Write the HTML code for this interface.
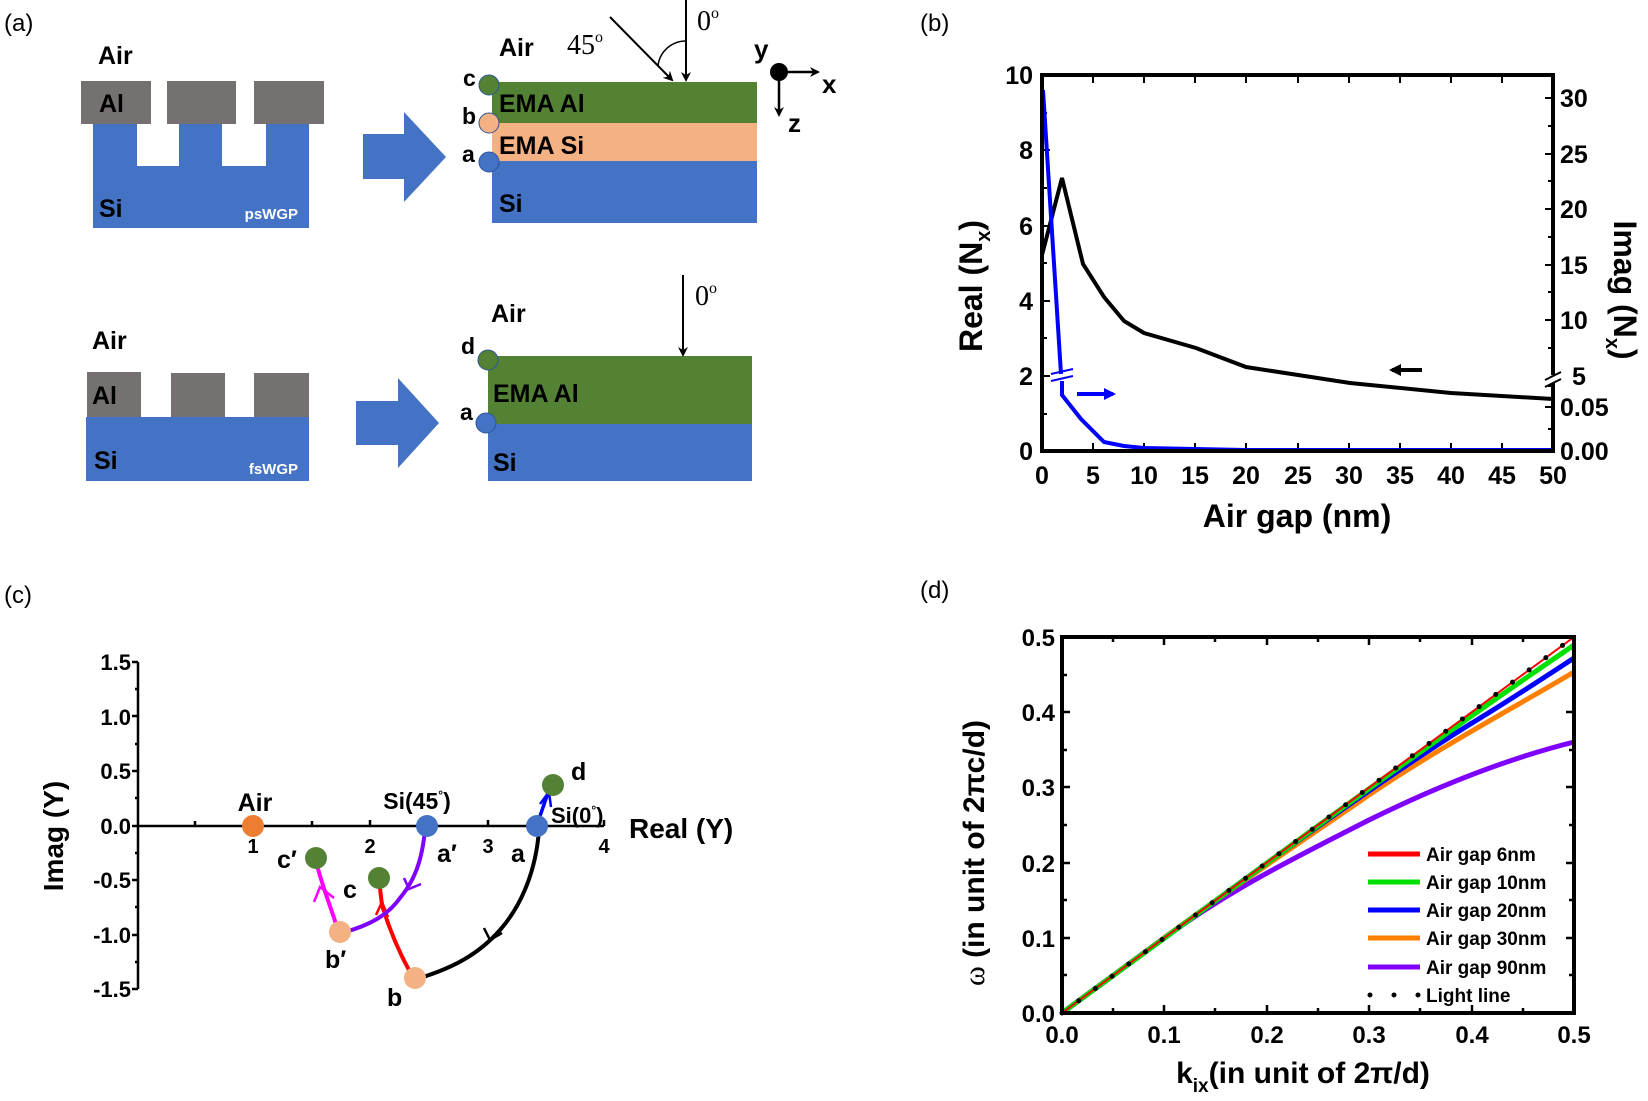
<!DOCTYPE html>
<html><head><meta charset="utf-8"><style>
html,body{margin:0;padding:0;background:#fff}
svg{display:block}
text{font-family:"Liberation Sans",sans-serif;font-weight:bold}
.s{font-family:"Liberation Serif",serif;font-weight:normal}
</style></head><body>
<svg width="1648" height="1101" viewBox="0 0 1648 1101" xmlns="http://www.w3.org/2000/svg">
<defs>
<marker id="ah" markerWidth="10" markerHeight="10" refX="8" refY="5" orient="auto" markerUnits="userSpaceOnUse"><path d="M0,0 L10,5 L0,10 L3,5 Z" fill="#000"/></marker>
<marker id="ahb" markerWidth="12" markerHeight="12" refX="9" refY="6" orient="auto" markerUnits="userSpaceOnUse"><path d="M0,0 L12,6 L0,12 Z" fill="#00f"/></marker>
<marker id="ahk" markerWidth="12" markerHeight="12" refX="9" refY="6" orient="auto" markerUnits="userSpaceOnUse"><path d="M0,0 L12,6 L0,12 Z" fill="#000"/></marker>
</defs>
<rect width="1648" height="1101" fill="#fff"/>

<!-- ===== Panel (a) ===== -->
<text x="4" y="31" font-size="24" font-weight="normal" style="font-weight:normal">(a)</text>
<!-- top left psWGP -->
<rect x="93" y="124" width="216" height="104" fill="#4472C4"/>
<rect x="137" y="124" width="42" height="42" fill="#fff"/>
<rect x="222" y="124" width="44" height="42" fill="#fff"/>
<rect x="81" y="81" width="70" height="43" fill="#767171"/>
<rect x="167" y="81" width="69" height="43" fill="#767171"/>
<rect x="254" y="81" width="70" height="43" fill="#767171"/>
<text x="98" y="64" font-size="25">Air</text>
<text x="99" y="112" font-size="25">Al</text>
<text x="99" y="217" font-size="25">Si</text>
<text x="298" y="219" font-size="15" fill="#fff" text-anchor="end">psWGP</text>
<!-- arrow1 -->
<path d="M363,134 L404,134 L404,112 L446,157 L404,202 L404,179 L363,179 Z" fill="#4472C4"/>
<!-- layered top right -->
<rect x="492" y="82" width="265" height="41" fill="#548235"/>
<rect x="492" y="123" width="265" height="38" fill="#F4B183"/>
<rect x="492" y="161" width="265" height="62" fill="#4472C4"/>
<circle cx="489" cy="85" r="10" fill="#548235" stroke="#2F5597" stroke-width="1"/>
<circle cx="489" cy="123" r="10" fill="#F4B183" stroke="#2F5597" stroke-width="1"/>
<circle cx="489" cy="162" r="10" fill="#4472C4" stroke="#2F5597" stroke-width="1"/>
<text x="463" y="86" font-size="23">c</text>
<text x="462" y="124" font-size="23">b</text>
<text x="462" y="162" font-size="23">a</text>
<text x="499" y="112" font-size="25">EMA Al</text>
<text x="499" y="154" font-size="25">EMA Si</text>
<text x="499" y="212" font-size="25">Si</text>
<text x="499" y="56" font-size="25">Air</text>
<text x="567" y="54" font-size="28" class="s">45<tspan font-size="16" dy="-12">o</tspan></text>
<text x="697" y="30" font-size="28" class="s">0<tspan font-size="16" dy="-12">o</tspan></text>
<line x1="686" y1="0" x2="686" y2="80" stroke="#000" stroke-width="2" marker-end="url(#ah)"/>
<line x1="610" y1="17" x2="672" y2="80" stroke="#000" stroke-width="2" marker-end="url(#ah)"/>
<path d="M658,66 A28,28 0 0 1 686,41" fill="none" stroke="#000" stroke-width="1.5"/>
<circle cx="779" cy="72" r="9" fill="#000"/>
<line x1="779" y1="72" x2="818" y2="72" stroke="#000" stroke-width="2.5" marker-end="url(#ah)"/>
<line x1="779" y1="72" x2="779" y2="115" stroke="#000" stroke-width="2.5" marker-end="url(#ah)"/>
<text x="754" y="58" font-size="26">y</text>
<text x="822" y="93" font-size="26">x</text>
<text x="788" y="132" font-size="26">z</text>

<!-- bottom left fsWGP -->
<rect x="86" y="417" width="223" height="64" fill="#4472C4"/>
<rect x="87" y="372" width="54" height="45" fill="#767171"/>
<rect x="171" y="373" width="54" height="44" fill="#767171"/>
<rect x="254" y="373" width="55" height="44" fill="#767171"/>
<text x="92" y="349" font-size="25">Air</text>
<text x="92" y="404" font-size="25">Al</text>
<text x="94" y="469" font-size="25">Si</text>
<text x="298" y="474" font-size="15" fill="#fff" text-anchor="end">fsWGP</text>
<path d="M356,401 L398,401 L398,378 L439,423 L398,468 L398,445 L356,445 Z" fill="#4472C4"/>
<rect x="488" y="356" width="264" height="68" fill="#548235"/>
<rect x="488" y="424" width="264" height="57" fill="#4472C4"/>
<circle cx="488" cy="360" r="10" fill="#548235" stroke="#2F5597" stroke-width="1"/>
<circle cx="486" cy="423" r="10" fill="#4472C4" stroke="#2F5597" stroke-width="1"/>
<text x="461" y="354" font-size="23">d</text>
<text x="460" y="420" font-size="23">a</text>
<text x="491" y="322" font-size="25">Air</text>
<text x="493" y="402" font-size="25">EMA Al</text>
<text x="493" y="471" font-size="25">Si</text>
<line x1="683" y1="275" x2="683" y2="355" stroke="#000" stroke-width="2" marker-end="url(#ah)"/>
<text x="695" y="305" font-size="28" class="s">0<tspan font-size="16" dy="-12">o</tspan></text>

<!-- ===== Panel (b) ===== -->
<text x="920" y="31" font-size="24" style="font-weight:normal">(b)</text>
<g stroke="#000" stroke-width="2">
<!-- left ticks -->
<path d="M1042,75 h8 M1042,150 h8 M1042,226 h8 M1042,301 h8 M1042,376 h8 M1042,113 h5 M1042,188 h5 M1042,263 h5 M1042,338 h5 M1042,414 h5"/>
<!-- right ticks -->
<path d="M1553,98 h-8 M1553,154 h-8 M1553,209 h-8 M1553,265 h-8 M1553,320 h-8 M1553,407 h-8 M1553,126 h-5 M1553,181 h-5 M1553,237 h-5 M1553,292 h-5 M1553,348 h-5 M1553,429 h-5 M1553,386 h-5"/>
<!-- bottom/top ticks -->
<path d="M1093,451 v-8 M1144,451 v-8 M1195,451 v-8 M1246,451 v-8 M1298,451 v-8 M1349,451 v-8 M1400,451 v-8 M1451,451 v-8 M1502,451 v-8
M1093,75 v8 M1144,75 v8 M1195,75 v8 M1246,75 v8 M1298,75 v8 M1349,75 v8 M1400,75 v8 M1451,75 v8 M1502,75 v8"/>
</g>
<polyline points="1042,255 1062,178 1083,264 1104,297 1124,321 1144,333 1196,348 1246,367 1350,383 1451,393 1553,399" fill="none" stroke="#000" stroke-width="4"/>
<polyline points="1043,90 1061,374" fill="none" stroke="#0000FF" stroke-width="4"/>
<polyline points="1062,381 1062,395 1081,419 1104,442 1124,446 1144,448 1246,450 1553,450" fill="none" stroke="#0000FF" stroke-width="4"/>
<path d="M1051,374 L1073,369 M1051,381 L1073,376" stroke="#0000FF" stroke-width="2"/>
<rect x="1042" y="75" width="511" height="376" fill="none" stroke="#000" stroke-width="4"/>
<rect x="1549" y="375" width="8" height="8" fill="#fff"/>
<path d="M1545,380 L1561,372 M1545,387 L1561,379" stroke="#000" stroke-width="2"/>
<line x1="1422" y1="370" x2="1392" y2="370" stroke="#000" stroke-width="4" marker-end="url(#ahk)"/>
<line x1="1077" y1="394" x2="1113" y2="394" stroke="#0000FF" stroke-width="4" marker-end="url(#ahb)"/>
<g font-size="25" text-anchor="end">
<text x="1033" y="84">10</text><text x="1033" y="159">8</text><text x="1033" y="235">6</text><text x="1033" y="310">4</text><text x="1033" y="385">2</text><text x="1033" y="460">0</text>
</g>
<g font-size="25" text-anchor="start">
<text x="1560" y="107">30</text><text x="1560" y="163">25</text><text x="1560" y="218">20</text><text x="1560" y="274">15</text><text x="1560" y="329">10</text><text x="1572" y="385">5</text><text x="1560" y="416">0.05</text><text x="1560" y="460">0.00</text>
</g>
<g font-size="25" text-anchor="middle">
<text x="1042" y="484">0</text><text x="1093" y="484">5</text><text x="1144" y="484">10</text><text x="1195" y="484">15</text><text x="1246" y="484">20</text><text x="1298" y="484">25</text><text x="1349" y="484">30</text><text x="1400" y="484">35</text><text x="1451" y="484">40</text><text x="1502" y="484">45</text><text x="1553" y="484">50</text>
</g>
<text x="1297" y="527" font-size="32" text-anchor="middle">Air gap (nm)</text>
<text transform="translate(982,286) rotate(-90)" font-size="32" text-anchor="middle">Real (N<tspan font-size="20" dy="8">x</tspan><tspan dy="-8">)</tspan></text>
<text transform="translate(1614,290) rotate(90)" font-size="32" text-anchor="middle">Imag (N<tspan font-size="20" dy="8">x</tspan><tspan dy="-8">)</tspan></text>

<!-- ===== Panel (c) ===== -->
<text x="4" y="603" font-size="24" style="font-weight:normal">(c)</text>
<g stroke="#000" stroke-width="2.5">
<line x1="138" y1="662" x2="138" y2="989"/>
<line x1="138" y1="826" x2="604" y2="826"/>
<path d="M138,662 h-6 M138,716 h-6 M138,771 h-6 M138,826 h-6 M138,880 h-6 M138,935 h-6 M138,989 h-6 M138,689 h-3 M138,744 h-3 M138,798 h-3 M138,853 h-3 M138,907 h-3 M138,962 h-3"/>
<path d="M195,826 v-5 M253,826 v-6 M312,826 v-5 M370,826 v-6 M429,826 v-5 M488,826 v-6 M546,826 v-5 M604,826 v-6"/>
</g>
<g font-size="22" text-anchor="end">
<text x="131" y="670">1.5</text><text x="131" y="725">1.0</text><text x="131" y="779">0.5</text><text x="131" y="834">0.0</text><text x="131" y="888">-0.5</text><text x="131" y="943">-1.0</text><text x="131" y="997">-1.5</text>
</g>
<g font-size="20" text-anchor="middle" style="font-weight:normal">
<text x="253" y="853" font-weight="bold">1</text><text x="370" y="853" font-weight="bold">2</text><text x="488" y="853" font-weight="bold">3</text><text x="604" y="853" font-weight="bold">4</text>
</g>
<!-- curves -->
<path d="M539,830 C536,870 522,905 500,930 C478,955 452,968 420,978" fill="none" stroke="#000" stroke-width="4"/>
<path d="M484,928 L490,940 L502,933" fill="none" stroke="#000" stroke-width="2.5"/>
<path d="M410,972 C398,950 388,925 382,905 L379,880" fill="none" stroke="#FF0000" stroke-width="4"/>
<path d="M376,915 L382,902 L388,917" fill="none" stroke="#FF0000" stroke-width="2.5"/>
<path d="M425,830 C422,860 415,880 400,898 C388,915 370,925 345,932" fill="none" stroke="#8000FF" stroke-width="4"/>
<path d="M404,878 L409,889 L421,884" fill="none" stroke="#8000FF" stroke-width="2.5"/>
<path d="M336,924 C330,905 322,885 317,865" fill="none" stroke="#FF00FF" stroke-width="4"/>
<path d="M314,902 L320,887 L334,898" fill="none" stroke="#FF00FF" stroke-width="2.5"/>
<path d="M540,816 L548,793" fill="none" stroke="#0000FF" stroke-width="3.5"/>
<path d="M540,804 L549,792 L551,807" fill="none" stroke="#0000FF" stroke-width="2.5"/>
<!-- points -->
<ellipse cx="253" cy="826" rx="11" ry="11" fill="#ED7D31"/>
<ellipse cx="427" cy="826" rx="11" ry="11" fill="#4472C4"/>
<ellipse cx="537" cy="826" rx="11" ry="11" fill="#4472C4"/>
<ellipse cx="553" cy="785" rx="11" ry="11" fill="#548235"/>
<ellipse cx="316" cy="858" rx="11" ry="11" fill="#548235"/>
<ellipse cx="379" cy="878" rx="11" ry="11" fill="#548235"/>
<ellipse cx="340" cy="932" rx="11" ry="11" fill="#F4B183"/>
<ellipse cx="415" cy="978" rx="11" ry="11" fill="#F4B183"/>
<g font-size="25">
<text x="255" y="811" text-anchor="middle">Air</text>
<text x="417" y="809" text-anchor="middle" font-size="23">Si(45<tspan font-size="12" dy="-10">°</tspan><tspan dy="10">)</tspan></text>
<text x="571" y="780">d</text>
<text x="551" y="823" font-size="22">Si(0<tspan font-size="12" dy="-9">°</tspan><tspan dy="9">)</tspan></text>
<text x="629" y="838" font-size="28">Real (Y)</text>
<text x="437" y="862">a′</text>
<text x="511" y="862">a</text>
<text x="277" y="868">c′</text>
<text x="343" y="898">c</text>
<text x="325" y="968">b′</text>
<text x="387" y="1006">b</text>
</g>
<text transform="translate(63,836) rotate(-90)" font-size="28" text-anchor="middle">Imag (Y)</text>

<!-- ===== Panel (d) ===== -->
<text x="920" y="598" font-size="24" style="font-weight:normal">(d)</text>
<g stroke="#000" stroke-width="2.5">
<path d="M1062,938 h8 M1062,863 h8 M1062,787 h8 M1062,712 h8 M1062,975 h5 M1062,900 h5 M1062,825 h5 M1062,750 h5 M1062,675 h5
M1574,938 h-8 M1574,863 h-8 M1574,787 h-8 M1574,712 h-8 M1574,975 h-5 M1574,900 h-5 M1574,825 h-5 M1574,750 h-5 M1574,675 h-5
M1164,1013 v-8 M1267,1013 v-8 M1369,1013 v-8 M1472,1013 v-8 M1113,1013 v-5 M1215,1013 v-5 M1318,1013 v-5 M1420,1013 v-5 M1523,1013 v-5
M1164,637 v8 M1267,637 v8 M1369,637 v8 M1472,637 v8 M1113,637 v5 M1215,637 v5 M1318,637 v5 M1420,637 v5 M1523,637 v5"/>
</g>
<g fill="none" stroke-width="5">
<path d="M1062,1013 L1164,938 C1230,890 1290,860 1369,820 C1440,785 1510,758 1574,742" stroke="#8000FF"/>
<path d="M1062,1013 L1164,938 C1240,882 1310,836 1369,795 C1440,747 1510,710 1574,672" stroke="#FF8000"/>
<path d="M1062,1013 L1267,863 C1340,810 1420,755 1472,723 C1510,700 1545,677 1574,658" stroke="#0000FF"/>
<path d="M1062,1013 L1267,863 C1380,780 1470,716 1574,645" stroke="#00E000"/>
<path d="M1062,1013 L1574,637" stroke="#FF0000" stroke-width="2"/>
</g>
<line x1="1062" y1="1013" x2="1574" y2="637" stroke="#000" stroke-width="5" stroke-dasharray="0 20.7" stroke-linecap="round"/>
<rect x="1062" y="637" width="512" height="376" fill="none" stroke="#000" stroke-width="4"/>
<g stroke-width="5">
<line x1="1368" y1="854" x2="1420" y2="854" stroke="#FF0000"/>
<line x1="1368" y1="882" x2="1420" y2="882" stroke="#00E000"/>
<line x1="1368" y1="910" x2="1420" y2="910" stroke="#0000FF"/>
<line x1="1368" y1="938" x2="1420" y2="938" stroke="#FF8000"/>
<line x1="1368" y1="967" x2="1420" y2="967" stroke="#8000FF"/>
<line x1="1370" y1="995" x2="1420" y2="995" stroke="#000" stroke-dasharray="0 24" stroke-linecap="round"/>
</g>
<g font-size="19">
<text x="1426" y="861">Air gap 6nm</text>
<text x="1426" y="889">Air gap 10nm</text>
<text x="1426" y="917">Air gap 20nm</text>
<text x="1426" y="945">Air gap 30nm</text>
<text x="1426" y="974">Air gap 90nm</text>
<text x="1426" y="1002">Light line</text>
</g>
<g font-size="24" text-anchor="end">
<text x="1055" y="1022">0.0</text><text x="1055" y="947">0.1</text><text x="1055" y="872">0.2</text><text x="1055" y="796">0.3</text><text x="1055" y="721">0.4</text><text x="1055" y="646">0.5</text>
</g>
<g font-size="24" text-anchor="middle">
<text x="1062" y="1043">0.0</text><text x="1164" y="1043">0.1</text><text x="1267" y="1043">0.2</text><text x="1369" y="1043">0.3</text><text x="1472" y="1043">0.4</text><text x="1574" y="1043">0.5</text>
</g>
<text transform="translate(984,853) rotate(-90)" font-size="30" text-anchor="middle"><tspan class="s" style="font-weight:normal">ω</tspan> (in unit of 2πc/d)</text>
<text x="1303" y="1083" font-size="30" text-anchor="middle">k<tspan font-size="19" dy="9">ix</tspan><tspan dy="-9">(in unit of 2π/d)</tspan></text>
</svg>
</body></html>
